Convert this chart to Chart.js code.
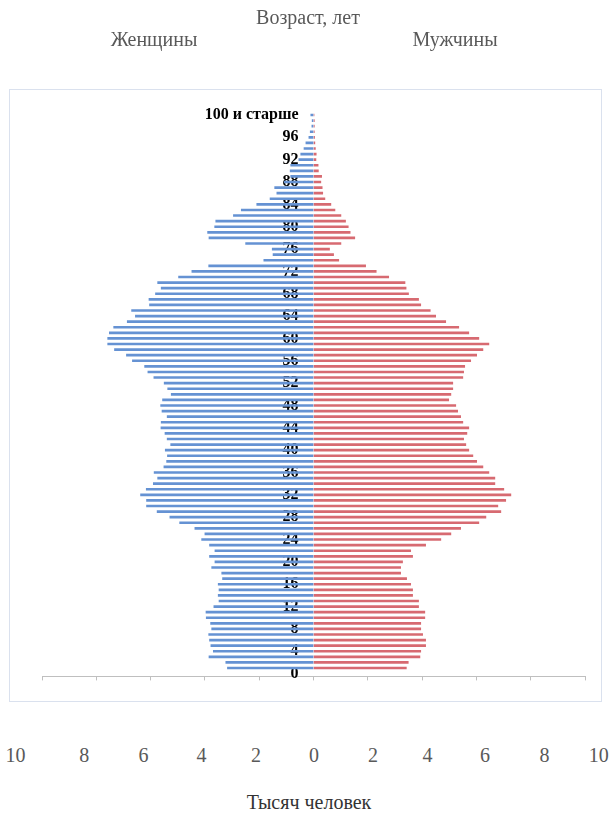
<!DOCTYPE html>
<html><head><meta charset="utf-8">
<script src="https://cdn.jsdelivr.net/npm/chart.js@4"></script>
<style>
html,body{margin:0;padding:0;background:#fff;}
#wrap{position:relative;width:609px;height:813px;overflow:hidden;font-family:'Liberation Serif','Times New Roman',serif;}
#frame{position:absolute;left:9px;top:89px;width:593px;height:613px;border:1px solid #dae1ee;box-sizing:border-box;}
#holder{position:absolute;left:0;top:0;width:609px;height:720px;}
.t{position:absolute;font-size:20px;line-height:20px;white-space:nowrap;color:#595959;transform:translateX(-50%);}
</style></head>
<body><div id="wrap">
<div id="frame"></div>
<div id="holder"><canvas id="c"></canvas></div>
<div class="t" style="left:308px;top:7px;">Возраст, лет</div>
<div class="t" style="left:154px;top:29px;">Женщины</div>
<div class="t" style="left:455px;top:29px;">Мужчины</div>
<div id="bottomTicks"></div>
<div class="t" style="left:309px;top:792px;color:#333;">Тысяч человек</div>
</div>
<script>
// Age categories 0..100 ("100 и старше")
const ageLabels = [];
for (let a = 0; a <= 100; a++) ageLabels.push(a === 100 ? '100 и старше' : String(a));

// Women, thousand persons, age 0..100
const women = [null,3.17,3.23,3.85,3.69,3.78,3.83,3.86,3.75,3.79,
  3.95,3.96,3.67,3.48,3.51,3.48,3.51,3.35,3.38,3.75,
  3.63,3.83,3.63,3.83,4.12,4.00,4.37,4.93,5.29,5.76,
  6.15,6.15,6.37,6.16,5.90,5.74,5.87,5.51,5.41,5.38,
  5.46,5.26,5.39,5.47,5.62,5.61,5.39,5.58,5.63,5.56,
  5.24,5.37,5.50,5.88,6.10,6.22,6.67,6.89,7.33,7.58,
  7.58,7.52,7.36,6.86,6.56,6.70,6.04,6.06,5.82,5.61,
  5.74,4.97,4.48,3.86,1.83,1.49,1.52,2.50,3.85,3.90,
  3.64,3.60,2.95,2.66,2.09,1.60,1.35,1.43,1.08,0.84,
  0.86,0.84,0.54,0.47,0.35,0.28,0.17,0.12,0.06,0.05,
  0.10];

// Men, thousand persons, age 0..100
const men = [null,3.42,3.49,3.92,3.95,4.13,4.13,4.02,3.95,3.95,
  4.10,4.10,3.87,3.87,3.65,3.65,3.58,3.43,3.21,3.21,
  3.28,3.65,3.58,4.13,4.69,5.06,5.42,6.09,6.35,6.90,
  6.79,7.08,7.27,7.01,6.68,6.68,6.46,6.24,6.01,5.87,
  5.72,5.61,5.53,5.65,5.72,5.50,5.42,5.31,5.24,4.98,
  5.06,5.13,5.13,5.50,5.53,5.57,5.79,6.01,6.24,6.46,
  6.09,5.72,5.35,4.87,4.50,4.30,3.95,3.87,3.50,3.41,
  3.37,2.77,2.31,1.92,0.93,0.74,0.59,1.01,1.52,1.35,
  1.28,1.18,1.01,0.79,0.64,0.42,0.34,0.32,0.27,0.30,
  0.18,0.17,0.09,0.10,0.07,0.05,0.04,0.03,0.03,0.03,
  0.02];

// Bottom value labels (as printed under the chart)
const bottomTickLabels = ['10','8','6','4','2','0','2','4','6','8','10'];
const bottomTickCenters = [15.5,84.3,143.4,201.4,256,314,373,427.5,485,544.6,598.8];

const bt = document.getElementById('bottomTicks');
bottomTickLabels.forEach((s, i) => {
  const d = document.createElement('div');
  d.className = 't';
  d.style.left = bottomTickCenters[i] + 'px';
  d.style.top = '745px';
  d.textContent = s;
  bt.appendChild(d);
});

new Chart(document.getElementById('c'), {
  type: 'bar',
  data: {
    labels: ageLabels,
    datasets: [
      { label: 'Женщины', data: women.map(v => v == null ? null : -v),
        backgroundColor: '#6592d3', barThickness: 2.0 },
      { label: 'Мужчины', data: men,
        backgroundColor: '#d76a71', barThickness: 2.0 }
    ]
  },
  options: {
    indexAxis: 'y',
    responsive: true,
    maintainAspectRatio: false,
    animation: false,
    layout: { padding: { left: 42, right: 24, top: 112.2, bottom: 39.6 } },
    plugins: { legend: { display: false }, tooltip: { enabled: false } },
    scales: {
      x: {
        type: 'linear', min: -10, max: 10, stacked: true,
        ticks: { display: false, stepSize: 2 },
        grid: { display: true, drawOnChartArea: false, drawTicks: true, tickLength: 4, color: '#bfbfbf', lineWidth: 1 },
        border: { display: true, color: '#bfbfbf', width: 1 }
      },
      y: {
        type: 'category', reverse: true, stacked: true,
        position: { x: -0.55 },
        z: 1,
        grid: { display: false, drawTicks: false },
        border: { display: false },
        ticks: {
          autoSkip: false, padding: 0, color: '#000',
          font: { family: "'Liberation Serif', 'Times New Roman', serif", size: 16, weight: 'bold' },
          callback: function(val, idx) { return idx % 4 === 0 ? ageLabels[idx] : ''; }
        }
      }
    }
  }
});
</script>
</body></html>
